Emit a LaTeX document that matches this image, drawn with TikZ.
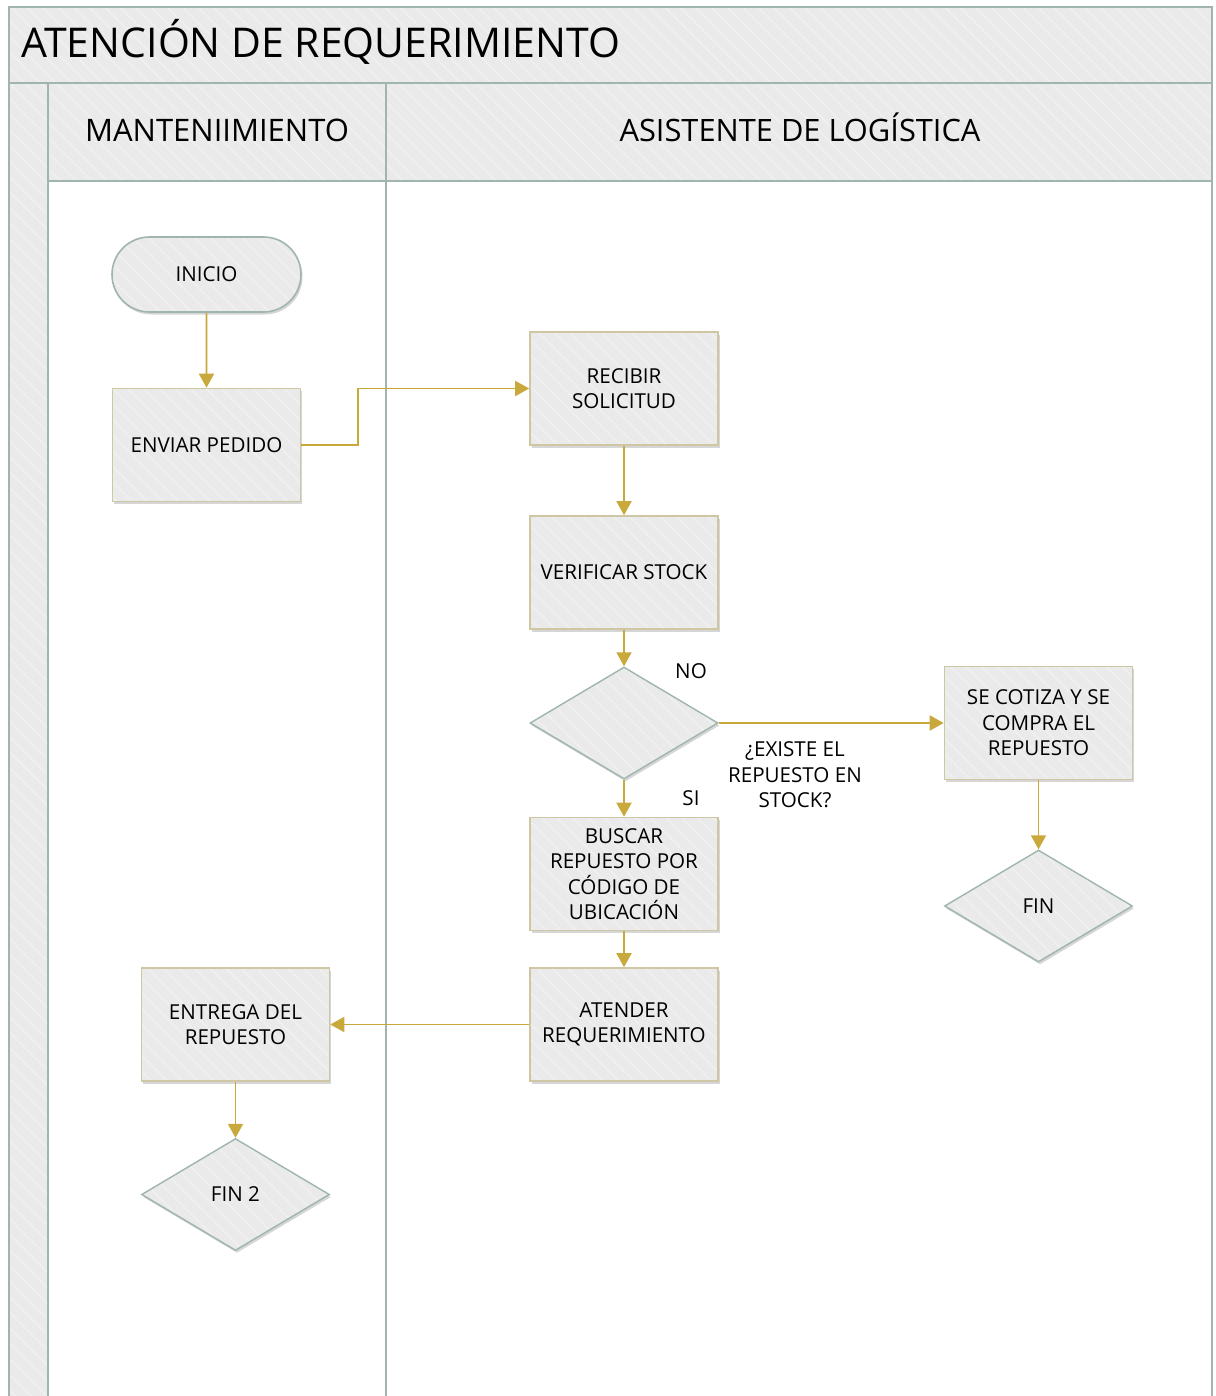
\documentclass[tikz,border=0pt]{standalone}
\usepackage{fontspec}
\setmainfont{Open Sans}
\usetikzlibrary{shapes.geometric,shapes.misc,arrows.meta,shadows,patterns.meta}
\definecolor{hatchbg}{HTML}{EAEAEA}
\definecolor{hatchln}{HTML}{F0F0F0}
\definecolor{laneln}{HTML}{9FB5AD}
\definecolor{boxln}{HTML}{CFC6A4}
\definecolor{arrowc}{HTML}{C9A93C}
\tikzset{
  hatch/.style={preaction={fill=hatchbg},pattern={Lines[angle=-45,distance=11pt,line width=1.6pt]},pattern color=hatchln},
  shad/.style={drop shadow={shadow xshift=1.5pt,shadow yshift=-2.5pt,opacity=0.16,fill=black}},
  txt/.style={font=\fontsize{20.6}{25.5}\selectfont,align=center,text=black},
  procbox/.style={shape=rectangle,shad,hatch,draw=boxln,line width=1.6pt,minimum width=188pt,minimum height=113pt,inner sep=0pt,txt},
  decis/.style={shape=diamond,shad,hatch,draw=laneln,line width=1.4pt,minimum width=188pt,minimum height=112pt,inner sep=0pt,txt},
  term/.style={shape=rounded rectangle,shad,hatch,draw=laneln,line width=1.6pt,minimum width=189pt,minimum height=75pt,inner sep=0pt,txt},
  flow/.style={draw=arrowc,line width=1.9pt,-{Triangle[width=15pt,length=14pt]}},
  lane/.style={draw=laneln,line width=2.4pt},
}
\begin{document}
\begin{tikzpicture}[x=1pt,y=-1pt]
\useasboundingbox[fill=white] (0,0) rectangle (1215,1396);
% pool frame
\path[hatch] (9,7) rectangle (1212,83);
\path[hatch] (9,83) rectangle (48,1396);
\path[hatch] (48,83) rectangle (386,181);
\path[hatch] (386,83) rectangle (1212,181);
\draw[lane] (9,1396) -- (9,7) -- (1212,7) -- (1212,1396);
\draw[lane] (9,83) -- (1212,83);
\draw[lane] (48,181) -- (1212,181);
\draw[lane] (48,83) -- (48,1396);
\draw[lane] (386,83) -- (386,1396);
\node[anchor=base west,font=\fontsize{41}{48}\selectfont,inner sep=0pt] (title) at (21,58) {ATENCIÓN DE REQUERIMIENTO};
\node[anchor=base,font=\fontsize{31}{37}\selectfont,inner sep=0pt] (lane1) at (217,142) {MANTENIIMIENTO};
\node[anchor=base,font=\fontsize{30.8}{37}\selectfont,inner sep=0pt] (lane2) at (800,142) {ASISTENTE DE LOGÍSTICA};
% nodes
\node[term] (inicio) at (206.5,274.5) {INICIO};
\node[procbox] (enviar) at (206.5,445) {ENVIAR PEDIDO};
\node[procbox] (recibir) at (624,388.5) {RECIBIR\\SOLICITUD};
\node[procbox] (verificar) at (624,572.5) {VERIFICAR STOCK};
\node[decis] (existe) at (624,723) {};
\node[procbox] (cotiza) at (1038.5,723) {SE COTIZA Y SE\\COMPRA EL\\REPUESTO};
\node[decis] (fin) at (1038.5,906) {FIN};
\node[procbox] (buscar) at (624,874) {BUSCAR\\REPUESTO POR\\CÓDIGO DE\\UBICACIÓN};
\node[procbox] (atender) at (624,1024.5) {ATENDER\\REQUERIMIENTO};
\node[procbox] (entrega) at (235.5,1024.5) {ENTREGA DEL\\REPUESTO};
\node[decis] (fin2) at (235.5,1194.5) {FIN 2};
% labels
\node[txt] (no) at (691,671) {NO};
\node[txt] (si) at (691,798) {SI};
\node[txt] (pregunta) at (795,775) {¿EXISTE EL\\REPUESTO EN\\STOCK?};
% connectors
\coordinate (bend) at (358,445);
\draw[flow] (enviar.east) -- (bend) |- (recibir.west);
\draw[flow] (inicio) -- (enviar);
\draw[flow] (recibir) -- (verificar);
\draw[flow] (verificar) -- (existe);
\draw[flow] (existe.east) -- (cotiza.west);
\draw[flow] (cotiza) -- (fin);
\draw[flow] (existe) -- (buscar);
\draw[flow] (buscar) -- (atender);
\draw[flow] (atender) -- (entrega);
\draw[flow] (entrega) -- (fin2);
\end{tikzpicture}
\end{document}
